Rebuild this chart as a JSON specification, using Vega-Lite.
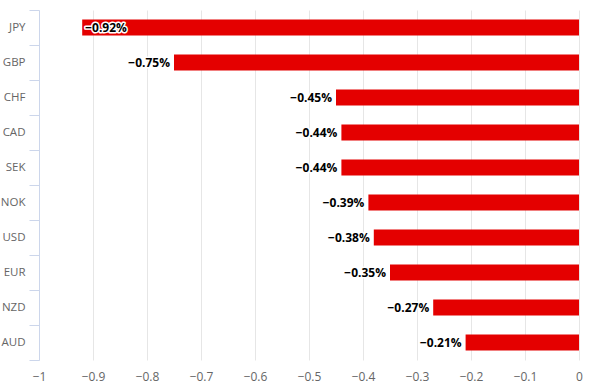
{
  "$schema": "https://vega.github.io/schema/vega-lite/v6.json",
  "width": 540,
  "height": 350,
  "autosize": "none",
  "padding": {"left": 39, "top": 10, "right": 21, "bottom": 32},
  "background": "white",
  "config": {"view": {"stroke": null}, "font": "Open Sans"},
  "data": {
    "values": [
      {"currency": "JPY", "value": -0.92},
      {"currency": "GBP", "value": -0.75},
      {"currency": "CHF", "value": -0.45},
      {"currency": "CAD", "value": -0.44},
      {"currency": "SEK", "value": -0.44},
      {"currency": "NOK", "value": -0.39},
      {"currency": "USD", "value": -0.38},
      {"currency": "EUR", "value": -0.35},
      {"currency": "NZD", "value": -0.27},
      {"currency": "AUD", "value": -0.21}
    ]
  },
  "transform": [{"calculate": "format(datum.value, '.2f') + '%'", "as": "label"}],
  "encoding": {
    "y": {
      "field": "currency", "type": "nominal", "sort": null,
      "scale": {"paddingInner": 0, "paddingOuter": 0},
      "axis": {
        "title": null, "tickBand": "extent", "domainColor": "#ccd6eb", "tickColor": "#ccd6eb",
        "tickSize": 10, "labelPadding": 4, "labelColor": "#666666", "labelFontSize": 11.5,
        "labelFont": "Open Sans", "grid": false
      }
    },
    "x": {
      "field": "value", "type": "quantitative",
      "scale": {"domain": [-1, 0], "nice": false},
      "axis": {
        "title": null, "values": [-1, -0.9, -0.8, -0.7, -0.6, -0.5, -0.4, -0.3, -0.2, -0.1, 0],
        "format": ".1~f", "domain": false, "ticks": false, "grid": true, "gridColor": "#e6e6e6",
        "labelColor": "#666666", "labelFontSize": 12, "labelPadding": 11, "labelFont": "Open Sans",
        "labelFlush": false
      }
    }
  },
  "layer": [
    {"mark": {"type": "bar", "color": "#e40000", "size": 16}},
    {
      "transform": [{"filter": "datum.value > -0.9"}],
      "mark": {"type": "text", "align": "right", "dx": -4, "fontWeight": "bold", "fontSize": 12, "stroke": "white", "strokeWidth": 3, "strokeJoin": "round", "fill": "white", "font": "Open Sans"},
      "encoding": {"text": {"field": "label"}}
    },
    {
      "transform": [{"filter": "datum.value > -0.9"}],
      "mark": {"type": "text", "align": "right", "dx": -4, "fontWeight": "bold", "fontSize": 12, "fill": "black", "font": "Open Sans"},
      "encoding": {"text": {"field": "label"}}
    },
    {
      "transform": [{"filter": "datum.value <= -0.9"}],
      "mark": {"type": "text", "align": "left", "dx": 3, "fontWeight": "bold", "fontSize": 12, "stroke": "white", "strokeWidth": 3, "strokeJoin": "round", "fill": "white", "font": "Open Sans"},
      "encoding": {"text": {"field": "label"}}
    },
    {
      "transform": [{"filter": "datum.value <= -0.9"}],
      "mark": {"type": "text", "align": "left", "dx": 3, "fontWeight": "bold", "fontSize": 12, "fill": "black", "font": "Open Sans"},
      "encoding": {"text": {"field": "label"}}
    }
  ]
}
